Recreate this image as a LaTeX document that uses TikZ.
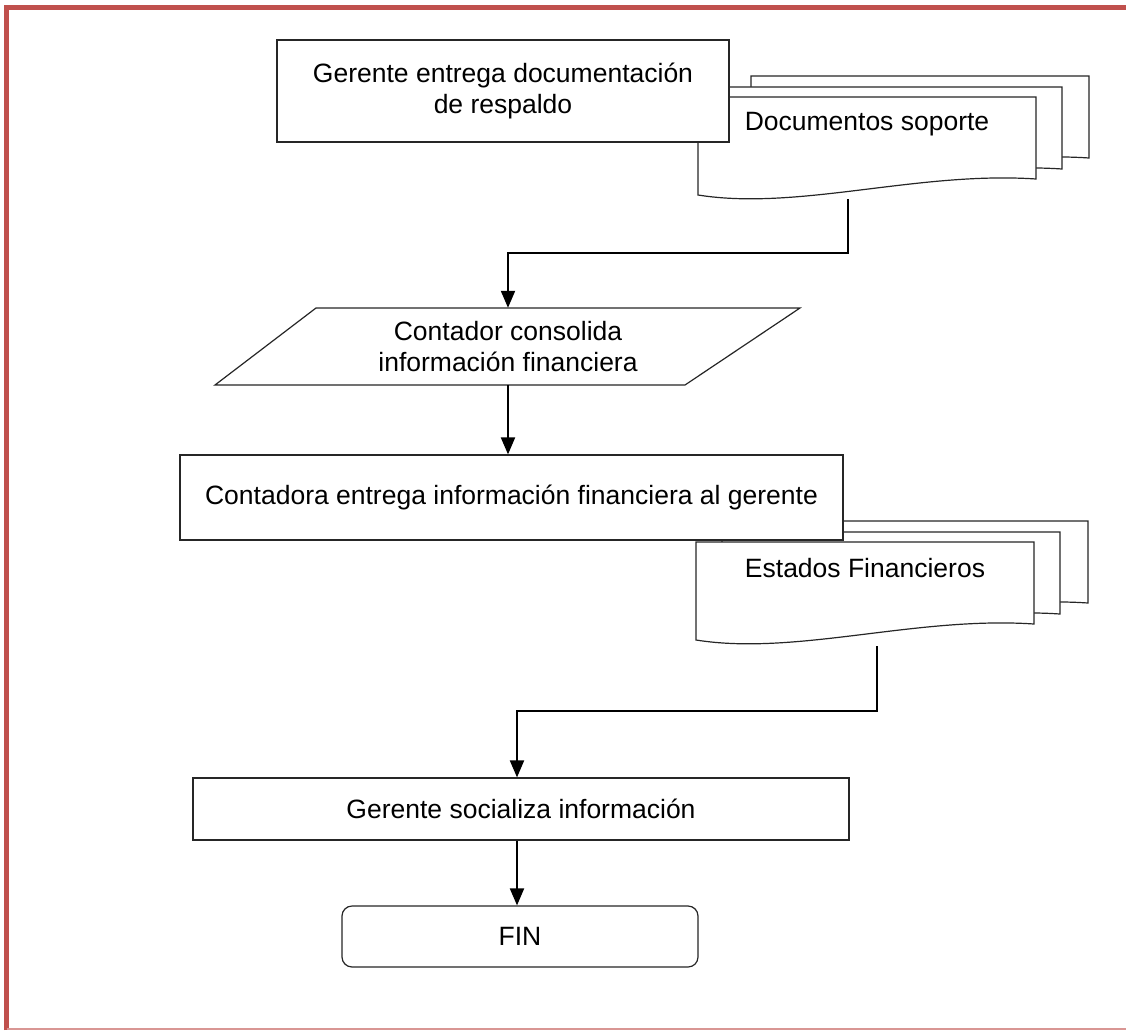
\documentclass[tikz,border=0pt]{standalone}
\usepackage{fontspec}
\setmainfont{Liberation Sans}
\usetikzlibrary{positioning,arrows.meta}
\definecolor{framered}{HTML}{C0504D}
\definecolor{framelight}{HTML}{D99694}
% one sheet of a document stack, top left corner at (#1,#2)
\newcommand{\docpage}[2]{\filldraw[page] (#1,{#2+98}) -- (#1,#2) -- ({#1+338},#2) -- ({#1+338},{#2+82})
  .. controls ({#1+220},{#2+74}) and ({#1+100},{#2+114}) .. (#1,{#2+98}) -- cycle;}

\begin{document}
\begin{tikzpicture}[x=1pt,y=-1pt,
  arr/.style={-{Triangle[length=17pt,width=14pt]},line width=2pt},
  box/.style={draw=black!85,fill=white,line width=1.2pt,font=\fontsize{26.5}{31}\selectfont,align=center,inner sep=0pt},
  txt/.style={font=\fontsize{26.5}{31}\selectfont,align=center,inner sep=0pt},
  page/.style={draw=black!85,fill=white,line width=1.2pt}]
\useasboundingbox (0,0) rectangle (1126,1030);
\draw[framered,line width=4.5pt] (6.5,1030) -- (6.5,7.5) -- (1126,7.5);
\draw[framelight,line width=1.5pt] (6.5,1029.2) -- (1126,1029.2);
% document stacks
\docpage{751}{76}
\docpage{724}{87}
\docpage{698}{97}
\docpage{750}{521}
\docpage{722}{532}
\docpage{696}{542}
\node[box,minimum width=452pt,minimum height=102pt] (ger) at (503,91) {Gerente entrega documentación\\de respaldo};
\node[txt] (sop) at (867,124) {Documentos soporte};
\coordinate (sopb) at (848,199);
\draw[page] (316,308) -- (800,308) -- (685,385) -- (215,385) -- cycle;
\node[txt,minimum height=77pt] (cons) at (508,346.5) {Contador consolida\\información financiera};
\node[box,minimum width=663pt,minimum height=85pt] (ent) at (511.5,497.5) {Contadora entrega información financiera al gerente};
\node[txt] (est) at (865,568) {Estados Financieros};
\coordinate (estb) at (877,646);
\node[box,minimum width=656pt,minimum height=62pt] (soc) at (521,809) {Gerente socializa información};
\node[box,rounded corners=10pt,minimum width=356pt,minimum height=61pt] (fin) at (520,936.5) {FIN};
\draw[arr] (sopb) -- ++(0,54) -| (cons.north);
\draw[arr] (cons.south) -- (cons.south |- ent.north);
\draw[arr] (estb) -- ++(0,65) -| ([xshift=-4pt]soc.north);
\draw[arr] ([xshift=-4pt]soc.south) -- ([xshift=-4pt]soc.south |- fin.north);
\end{tikzpicture}
\end{document}
